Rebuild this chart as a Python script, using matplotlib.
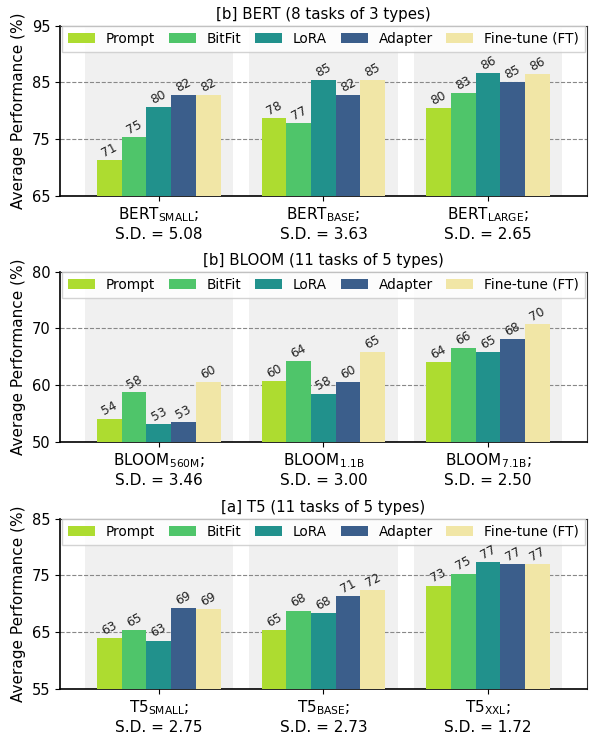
import matplotlib

matplotlib.use("Agg")
import matplotlib.pyplot as plt
import numpy as np

plt.rcParams["font.family"] = ["DejaVu Sans"]
plt.rcParams["mathtext.fontset"] = "dejavusans"

METHODS = ["Prompt", "BitFit", "LoRA", "Adapter", "Fine-tune (FT)"]
COLORS = ["#addc30", "#4fc56a", "#21918c", "#3b5e8b", "#f1e6a6"]

# BERT (8 tasks of 3 types)
bert_models = ["BERT$_{\\mathrm{SMALL}}$;\nS.D. = 5.08",
               "BERT$_{\\mathrm{BASE}}$;\nS.D. = 3.63",
               "BERT$_{\\mathrm{LARGE}}$;\nS.D. = 2.65"]
bert_prompt = [71.3, 78.7, 80.5]
bert_bitfit = [75.4, 77.8, 83.1]
bert_lora = [80.6, 85.4, 86.6]
bert_adapter = [82.7, 82.7, 85.0]
bert_ft = [82.7, 85.4, 86.5]

# BLOOM (11 tasks of 5 types)
bloom_models = ["BLOOM$_{\\mathrm{560M}}$;\nS.D. = 3.46",
                "BLOOM$_{\\mathrm{1.1B}}$\nS.D. = 3.00",
                "BLOOM$_{\\mathrm{7.1B}}$;\nS.D. = 2.50"]
bloom_prompt = [54.1, 60.7, 64.1]
bloom_bitfit = [58.8, 64.2, 66.5]
bloom_lora = [53.1, 58.5, 65.8]
bloom_adapter = [53.5, 60.5, 68.1]
bloom_ft = [60.5, 65.8, 70.8]

# T5 (11 tasks of 5 types)
t5_models = ["T5$_{\\mathrm{SMALL}}$;\nS.D. = 2.75",
             "T5$_{\\mathrm{BASE}}$;\nS.D. = 2.73",
             "T5$_{\\mathrm{XXL}}$;\nS.D. = 1.72"]
t5_prompt = [63.9, 65.3, 73.2]
t5_bitfit = [65.3, 68.8, 75.3]
t5_lora = [63.5, 68.3, 77.4]
t5_adapter = [69.2, 71.3, 77.0]
t5_ft = [69.0, 72.4, 77.0]

PANELS = [
    ("[b] BERT (8 tasks of 3 types)", bert_models,
     [bert_prompt, bert_bitfit, bert_lora, bert_adapter, bert_ft], [65, 75, 85, 95]),
    ("[b] BLOOM (11 tasks of 5 types)", bloom_models,
     [bloom_prompt, bloom_bitfit, bloom_lora, bloom_adapter, bloom_ft], [50, 60, 70, 80]),
    ("[a] T5 (11 tasks of 5 types)", t5_models,
     [t5_prompt, t5_bitfit, t5_lora, t5_adapter, t5_ft], [55, 65, 75, 85]),
]


def draw_panel(ax, title, models, series, yticks):
    x = np.arange(len(models))
    width = 0.15
    for xi in x:
        ax.axvspan(xi - 0.45, xi + 0.45, color="#f0f0f0", zorder=0, lw=0)
    for k, (name, vals) in enumerate(zip(METHODS, series)):
        pos = x + (k - 2) * width
        ax.bar(pos, vals, width, color=COLORS[k], label=name, zorder=3)
        for p, v in zip(pos, vals):
            ax.text(p, v + 0.1, f"{int(v)}", rotation=28, ha="center", va="bottom",
                    fontsize=8.8, color="#222222", zorder=6)

    ax.set_xlim(-0.6, 2.6)
    ax.set_ylim(yticks[0], yticks[-1])
    ax.set_yticks(yticks)
    ax.set_xticks(x)
    ax.set_xticklabels(models, fontsize=11)
    ax.tick_params(axis="y", labelsize=10.5)
    ax.set_ylabel("Average Performance (%)", fontsize=11)
    ax.set_title(title, fontsize=10.8, pad=5)
    ax.yaxis.grid(True, linestyle="--", color="#888888", lw=0.8, zorder=1)
    ax.set_axisbelow(True)
    for side in ("left", "bottom"):
        ax.spines[side].set_linewidth(1.2)
        ax.spines[side].set_color("black")
    for side in ("top", "right"):
        ax.spines[side].set_linewidth(0.8)
        ax.spines[side].set_color("#333333")
    leg = ax.legend(loc="upper left", bbox_to_anchor=(0.003, 0.96, 0.994, 0.04),
                    mode="expand", ncol=5, borderaxespad=0, fontsize=9.8,
                    borderpad=0.45, fancybox=False, edgecolor="#cccccc", framealpha=0.85)
    leg.set_zorder(5)


fig = plt.figure(figsize=(5.9, 7.36), dpi=100)
bottoms = [0.7337, 0.3995, 0.0639]
for (title, models, series, yticks), b in zip(PANELS, bottoms):
    ax = fig.add_axes([0.1017, b, 0.893, 0.2315])
    draw_panel(ax, title, models, series, yticks)

fig.savefig("out.png", dpi=100)
